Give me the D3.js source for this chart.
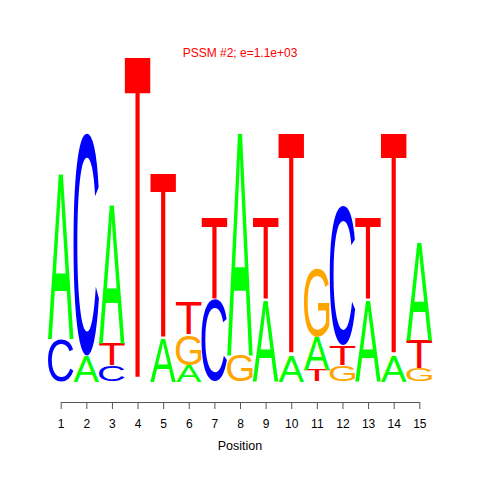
<!DOCTYPE html>
<html lang="en">
<head>
  <meta charset="UTF-8">
  <title>PSSM logo</title>
  <script src="https://d3js.org/d3.v7.min.js"></script>
  <style>
    body { margin: 0; background: #fff; }
    text { font-family: "Liberation Sans", Arial, sans-serif; }
  </style>
</head>
<body>
<script>
var width = 480,
    height = 480;

// heights of each letter per position (bits)
var positions = [1, 2, 3, 4, 5, 6, 7, 8, 9, 10, 11, 12, 13, 14, 15];
var heightA = [1.02, 0.16, 0.85, 0, 0.265, 0.10, 0, 1.37, 0.50, 0.16, 0.205, 0, 0.50, 0.16, 0.60];
var heightC = [0.26, 1.37, 0.10, 0, 0, 0, 0.50, 0, 0, 0, 0, 0.86, 0, 0, 0];
var heightG = [0, 0, 0, 0, 0, 0.19, 0, 0.16, 0, 0, 0.42, 0.10, 0, 0, 0.08];
var heightT = [0, 0, 0.136, 2.0, 1.02, 0.198, 0.506, 0, 0.506, 1.37, 0.07, 0.123, 0.506, 1.37, 0.173];

var letters = ["A", "C", "G", "T"];
var colours = {A: "#00ff00", C: "#0000ff", G: "#ffa500", T: "#ff0000"};
var title = "PSSM #2; e=1.1e+03";

var svg = d3.select("body").append("svg")
    .attr("width", width)
    .attr("height", height);

var x = d3.scaleLinear().domain([1, 15]).range([60.7, 419.3]);
var y = d3.scaleLinear().domain([0, 2]).range([381.5, 57]);
var colW = x(2) - x(1);

// ink box of each glyph, so the letter can be stretched to fill its cell
var ctx = document.createElement("canvas").getContext("2d");
ctx.font = "100px 'Liberation Sans'";
var ink = {};
letters.forEach(function(l) {
  var m = ctx.measureText(l);
  ink[l] = {
    left: m.actualBoundingBoxLeft,
    w: m.actualBoundingBoxLeft + m.actualBoundingBoxRight,
    asc: m.actualBoundingBoxAscent,
    h: m.actualBoundingBoxAscent + m.actualBoundingBoxDescent
  };
});

// build the stacks, smallest letter at the bottom
var cells = [];
positions.forEach(function(p, i) {
  var col = [
    {l: "A", v: heightA[i]},
    {l: "C", v: heightC[i]},
    {l: "G", v: heightG[i]},
    {l: "T", v: heightT[i]}
  ].filter(function(d) { return d.v > 0; })
   .sort(function(a, b) { return a.v - b.v; });
  var base = 0;
  col.forEach(function(d) {
    cells.push({pos: p, l: d.l, y0: base, y1: base + d.v});
    base += d.v;
  });
});

svg.append("g").selectAll("text").data(cells).enter().append("text")
    .attr("x", 0)
    .attr("y", 0)
    .attr("font-size", 100)
    .attr("fill", function(d) { return colours[d.l]; })
    .attr("transform", function(d) {
      var g = ink[d.l];
      var sx = colW / g.w,
          sy = (y(d.y0) - y(d.y1)) / g.h;
      return "translate(" + (x(d.pos) - colW / 2) + "," + y(d.y1) + ") scale(" + sx + "," + sy + ") translate(" + g.left + "," + g.asc + ")";
    })
    .text(function(d) { return d.l; });

// x axis
var axis = svg.append("g")
    .attr("transform", "translate(0,402)")
    .call(d3.axisBottom(x).tickValues(positions).tickSize(7).tickSizeOuter(0).tickPadding(10));
axis.select(".domain").attr("stroke", "#555");
axis.selectAll(".tick line").attr("stroke", "#555");
axis.selectAll(".tick text")
    .attr("font-size", 12)
    .attr("font-family", "Liberation Sans, Arial, sans-serif")
    .attr("fill", "#000");

svg.append("text")
    .attr("x", 240)
    .attr("y", 450)
    .attr("text-anchor", "middle")
    .attr("font-size", 12.5)
    .attr("fill", "#000")
    .text("Position");

svg.append("text")
    .attr("x", 240)
    .attr("y", 56.5)
    .attr("text-anchor", "middle")
    .attr("font-size", 12)
    .attr("fill", "#ff0000")
    .text(title);
</script>
</body>
</html>
